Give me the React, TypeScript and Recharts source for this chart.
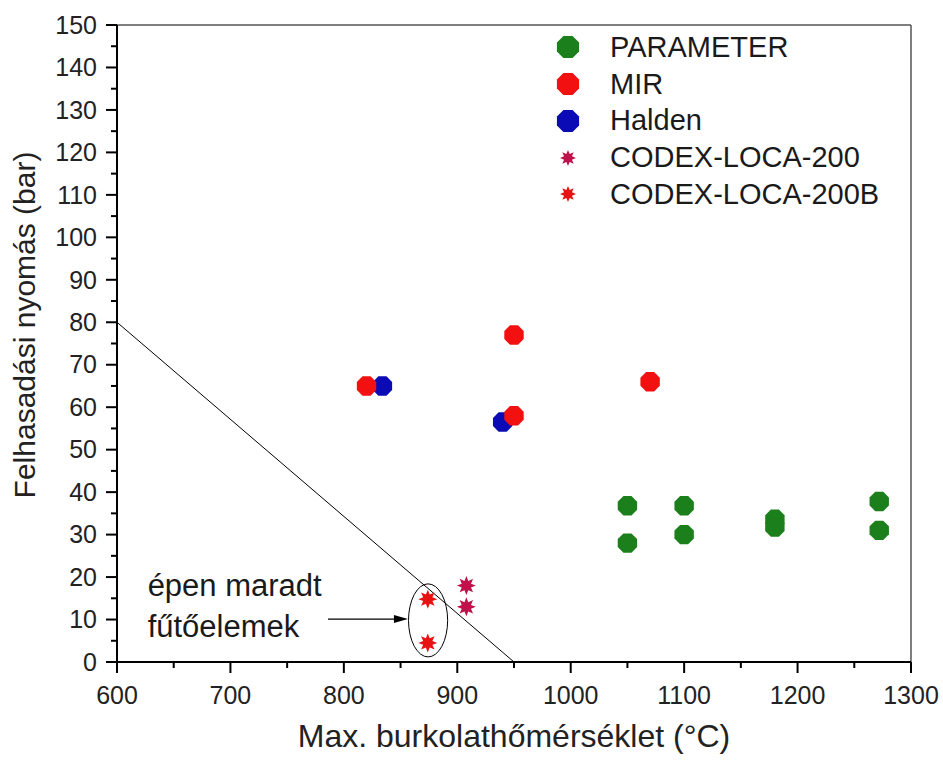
import React from 'react';
import {
  ScatterChart,
  Scatter,
  XAxis,
  YAxis,
  ReferenceLine,
  ReferenceArea,
  ReferenceDot,
  Legend,
} from 'recharts';

// tick values (majors get labels)
const xTicks = [600, 650, 700, 750, 800, 850, 900, 950, 1000, 1050, 1100, 1150, 1200, 1250, 1300];
const yTicks = [
  0, 5, 10, 15, 20, 25, 30, 35, 40, 45, 50, 55, 60, 65, 70, 75, 80, 85, 90, 95, 100,
  105, 110, 115, 120, 125, 130, 135, 140, 145, 150,
];

// series values
const paramX = [1050, 1050, 1100, 1100, 1180, 1180, 1272, 1272];
const paramY = [36.8, 28, 36.8, 30, 33.6, 31.8, 37.8, 31];
const mirX = [820, 950, 950, 1070];
const mirY = [65, 77, 58, 66];
const haldenX = [834, 940];
const haldenY = [65, 56.5];
const codexX = [908, 908];
const codexY = [18, 13];
const codexBX = [874, 874];
const codexBY = [14.8, 4.5];

// limit line and annotation
const limitLine = [{ x: 600, y: 80 }, { x: 950, y: 0 }];
const ellipseX = [857, 891.5];
const ellipseY = [1.2, 18.4];
const arrowLine = [{ x: 786, y: 10.1 }, { x: 856.5, y: 10.1 }];
const noteText = ['épen maradt', 'fűtőelemek'];

const zip = (xs: number[], ys: number[]) => xs.map((x, i) => ({ x, y: ys[i] }));

const GREEN = '#1b7f1b';
const RED = '#f21010';
const BLUE = '#0b0bb5';
const CRIMSON = '#c0124a';
const STAR_RED = '#e81212';
const FONT = '"Liberation Sans", Arial, sans-serif';

const octagon = (cx: number, cy: number, r: number) =>
  Array.from({ length: 8 }, (_, k) => {
    const a = ((22.5 + k * 45) * Math.PI) / 180;
    return `${cx + r * Math.cos(a)},${cy + r * Math.sin(a)}`;
  }).join(' ');

const star = (cx: number, cy: number, ro: number, ri: number) =>
  Array.from({ length: 16 }, (_, k) => {
    const a = ((k * 22.5 - 90) * Math.PI) / 180;
    const r = k % 2 === 0 ? ro : ri;
    return `${cx + r * Math.cos(a)},${cy + r * Math.sin(a)}`;
  }).join(' ');

const octShape = (color: string) => (p: any) =>
  <polygon points={octagon(p.cx, p.cy, 10.5)} fill={color} />;
const starShape = (color: string) => (p: any) =>
  <polygon points={star(p.cx, p.cy, 9.5, 5)} fill={color} />;

const legendItems = [
  { name: 'PARAMETER', color: GREEN, kind: 'oct' },
  { name: 'MIR', color: RED, kind: 'oct' },
  { name: 'Halden', color: BLUE, kind: 'oct' },
  { name: 'CODEX-LOCA-200', color: CRIMSON, kind: 'star' },
  { name: 'CODEX-LOCA-200B', color: STAR_RED, kind: 'star' },
];

const renderLegend = () => (
  <div style={{ fontFamily: FONT, fontSize: 29, color: '#1a1a1a' }}>
    {legendItems.map((it) => (
      <div key={it.name} style={{ display: 'flex', alignItems: 'center', height: 36.75 }}>
        <svg width={36} height={36} style={{ marginRight: 24 }}>
          {it.kind === 'oct' ? (
            <polygon points={octagon(18, 18, 12)} fill={it.color} />
          ) : (
            <polygon points={star(18, 18, 8, 4.3)} fill={it.color} />
          )}
        </svg>
        <span>{it.name}</span>
      </div>
    ))}
  </div>
);

const XTick = (props: any) => {
  const { x, y, payload } = props;
  const major = payload.value % 100 === 0;
  return (
    <g>
      <line x1={x} y1={y} x2={x} y2={y + (major ? 11 : 6)} stroke="#000" strokeWidth={2} />
      {major && (
        <text x={x} y={y + 42} textAnchor="middle" fontSize={25} fill="#222" fontFamily={FONT}>
          {payload.value}
        </text>
      )}
    </g>
  );
};

const YTick = (props: any) => {
  const { x, y, payload } = props;
  const major = payload.value % 10 === 0;
  return (
    <g>
      <line x1={x} y1={y} x2={x - (major ? 11 : 6)} y2={y} stroke="#000" strokeWidth={2} />
      {major && (
        <text x={x - 20} y={y} dy="0.35em" textAnchor="end" fontSize={25} fill="#222" fontFamily={FONT}>
          {payload.value}
        </text>
      )}
    </g>
  );
};

const App: React.FC = () => {
  return (
    <div style={{ position: 'absolute', left: 0, top: 0, background: '#fff' }}>
      <ScatterChart
        width={943}
        height={763}
        margin={{ top: 25, right: 32, left: 0, bottom: 0 }}
        style={{ fontFamily: FONT }}
      >
        <XAxis
          type="number"
          dataKey="x"
          domain={[600, 1300]}
          ticks={xTicks}
          interval={0}
          tick={<XTick />}
          tickSize={0}
          tickMargin={0}
          tickLine={false}
          axisLine={{ stroke: '#000', strokeWidth: 2 }}
          height={101}
          label={{
            value: 'Max. burkolathőmérséklet (°C)',
            position: 'insideBottom',
            offset: 16,
            fontSize: 32,
            fill: '#222',
          }}
        />
        <YAxis
          type="number"
          dataKey="y"
          domain={[0, 150]}
          ticks={yTicks}
          interval={0}
          tick={<YTick />}
          tickSize={0}
          tickMargin={0}
          tickLine={false}
          axisLine={{ stroke: '#000', strokeWidth: 2 }}
          width={117}
          label={{
            content: () => (
              <text
                x={24}
                y={325}
                transform="rotate(-90 24 325)"
                textAnchor="middle"
                dominantBaseline="central"
                fontSize={30}
                fill="#222"
                fontFamily={FONT}
              >
                Felhasadási nyomás (bar)
              </text>
            ),
          }}
        />
        <ReferenceLine y={150} stroke="#555" strokeWidth={1.5} />
        <ReferenceLine x={1300} stroke="#555" strokeWidth={1.5} />
        <ReferenceLine segment={limitLine} stroke="#000" strokeWidth={1} />
        <ReferenceArea
          x1={ellipseX[0]}
          x2={ellipseX[1]}
          y1={ellipseY[0]}
          y2={ellipseY[1]}
          shape={(p: any) => (
            <ellipse
              cx={p.x + p.width / 2}
              cy={p.y + p.height / 2}
              rx={p.width / 2}
              ry={p.height / 2}
              fill="none"
              stroke="#000"
              strokeWidth={1}
            />
          )}
        />
        <ReferenceLine
          segment={arrowLine}
          shape={(p: any) => (
            <g>
              <line x1={p.x1} y1={p.y1} x2={p.x2 - 12} y2={p.y2} stroke="#000" strokeWidth={1.2} />
              <polygon
                points={`${p.x2},${p.y2} ${p.x2 - 14},${p.y2 - 4} ${p.x2 - 14},${p.y2 + 4}`}
                fill="#000"
              />
            </g>
          )}
        />
        <ReferenceDot
          x={627}
          y={15.5}
          r={0}
          shape={(p: any) => (
            <text x={p.cx} y={p.cy} fontSize={31} fill="#1a1a1a" fontFamily={FONT}>
              <tspan x={p.cx}>{noteText[0]}</tspan>
              <tspan x={p.cx} dy={41}>{noteText[1]}</tspan>
            </text>
          )}
        />
        <Scatter name="PARAMETER" data={zip(paramX, paramY)} shape={octShape(GREEN)} isAnimationActive={false} />
        <Scatter name="Halden" data={zip(haldenX, haldenY)} shape={octShape(BLUE)} isAnimationActive={false} />
        <Scatter name="MIR" data={zip(mirX, mirY)} shape={octShape(RED)} isAnimationActive={false} />
        <Scatter name="CODEX-LOCA-200" data={zip(codexX, codexY)} shape={starShape(CRIMSON)} isAnimationActive={false} />
        <Scatter name="CODEX-LOCA-200B" data={zip(codexBX, codexBY)} shape={starShape(STAR_RED)} isAnimationActive={false} />
        <Legend
          content={renderLegend}
          layout="vertical"
          align="center"
          verticalAlign="middle"
          wrapperStyle={{ left: 550, top: 29, width: 370 }}
        />
      </ScatterChart>
    </div>
  );
};

export default App;
